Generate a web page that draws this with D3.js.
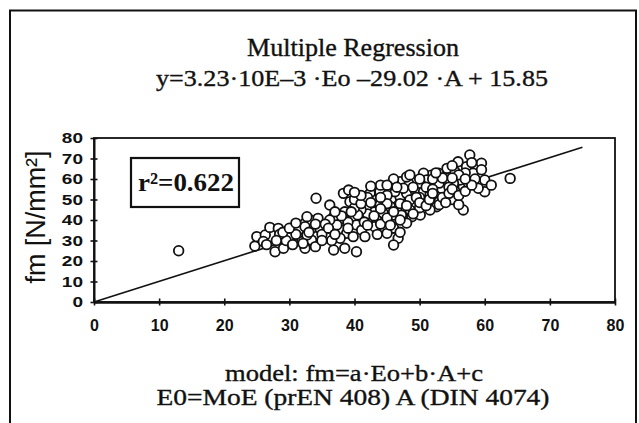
<!DOCTYPE html>
<html>
<head>
<meta charset="utf-8">
<script src="https://cdn.jsdelivr.net/npm/d3@7/dist/d3.min.js"></script>
<style>
  html, body { margin: 0; padding: 0; background: #fff; }
  svg { display: block; }
</style>
</head>
<body>
<svg id="chart" width="639" height="423"></svg>
<script>
// Measured vs. predicted bending strength (multiple regression model)
const xTicks = [0, 10, 20, 30, 40, 50, 60, 70, 80];
const yTicks = [0, 10, 20, 30, 40, 50, 60, 70, 80];

const titleLines = ["Multiple Regression", "y=3.23·10E–3 ·Eo –29.02 ·A + 15.85"];
const footLines = ["model: fm=a·Eo+b·A+c", "E0=MoE (prEN 408)  A (DIN 4074)"];
const yLabel = "fm [N/mm²]";
const r2Label = "r²=0.622";

// 1:1 reference line endpoints
const fitLine = [[0, 0], [75, 75.5]];

// predicted (x) and measured (y) strengths
const predicted = [
  13, 24.7, 25.0, 26.3, 27.0, 28.3, 27.8, 29.1, 30.1, 31.9, 31.4, 32.4, 33.2, 34.4, 34.7, 33.4, 32.4,
  34.1, 36.2, 36.8, 38.0, 36.8, 38.5, 40.3, 38.3, 39.1, 39.3, 38.5, 39.8, 40.3, 41.1, 41.6, 41.3, 42.4,
  42.1, 43.4, 42.9, 37.3, 36.2, 38.8, 39.8, 37.8, 32.7, 32.4, 32.7, 32.1, 29.5, 26.0, 28.5, 30.5, 35.5,
  35.0, 36.5, 34.0,
  44.4, 45.7, 47.0, 48.0, 49.3, 50.6, 51.6, 52.6, 54.2, 53.9, 55.7, 56.7, 52.6, 51.6, 50.8, 49.5, 48.5,
  48.5, 47.5, 46.5, 45.5, 43.9, 43.1, 44.4, 46.0, 47.2, 48.8, 50.1, 43.4, 44.9, 44.7, 43.1, 46.7, 46.0,
  57.7, 59.5, 55.9, 57.2, 55.4, 54.2, 58.2, 60.0, 60.0, 63.9, 56.7, 57.5, 56.2, 55.2, 54.2, 52.9, 53.4,
  52.4, 51.8, 50.6, 51.1, 50.1, 49.0, 48.3, 47.0, 46.0, 46.2, 44.9, 43.9,
  59.5, 58.5, 57.0, 53.0, 50.0, 45.0, 47.5, 42.0, 41.0, 40.5, 45.0, 49.0, 51.0, 54.5, 56.0, 52.0, 48.0,
  46.0, 44.0, 42.5, 53.0, 55.0, 56.0, 50.0, 44.0, 41.5, 39.0, 38.0, 37.0, 40.0, 46.0, 45.0, 48.0, 52.0,
  58.0, 61.0, 59.0, 55.0,
  26.5, 28.0, 29.0, 31.0, 30.0, 33.0, 35.0, 36.0, 37.0, 34.0, 31.0,
  39.5, 40.0, 41.0, 42.0, 43.0, 44.0, 45.0, 46.0, 47.0, 47.0, 48.0, 49.0, 49.5, 50.0, 51.0, 51.5, 52.0,
  53.0, 53.5, 54.0, 54.5, 55.0, 56.0, 57.0, 58.0, 57.0, 55.0, 53.5, 52.5, 50.0, 48.5, 46.5, 45.0, 44.0,
  42.5, 41.0, 40.0, 45.5, 47.0, 42.0, 39.0, 43.5
];
const measured = [
  25, 27.3, 31.9, 32.7, 36.4, 35.9, 24.5, 26.2, 31.9, 29.4, 35.1, 38.4, 40.0, 40.8, 35.9, 30.2, 26.2,
  50.6, 47.3, 41.6, 35.1, 25.4, 26.2, 24.5, 53.0, 54.6, 48.9, 44.0, 41.6, 37.6, 35.1, 31.9, 50.6, 53.0,
  46.5, 49.8, 40.0, 37.6, 40.0, 33.5, 31.9, 31.1, 41.6, 36.7, 32.7, 28.6, 30.0, 29.5, 33.0, 28.0, 38.0,
  33.0, 30.0, 27.0,
  49.8, 50.6, 51.4, 53.0, 54.6, 53.8, 52.2, 51.4, 51.4, 53.8, 53.8, 56.3, 46.5, 44.9, 48.9, 47.3, 49.8,
  44.9, 46.5, 45.7, 46.5, 47.3, 44.0, 43.3, 42.4, 42.4, 41.6, 42.4, 40.0, 39.2, 35.1, 36.7, 31.1, 27.8,
  71.7, 67.7, 68.4, 66.0, 63.6, 65.2, 62.8, 59.5, 53.8, 60.3, 44.9, 57.9, 59.5, 57.9, 60.3, 62.8, 55.4,
  57.9, 61.9, 62.8, 59.5, 57.9, 59.5, 57.9, 58.7, 57.9, 53.8, 55.4, 53.8,
  64.5, 60.0, 63.0, 58.0, 51.0, 52.0, 55.5, 43.0, 45.0, 42.5, 48.0, 56.0, 56.0, 56.0, 62.0, 60.0, 61.0,
  60.0, 57.0, 56.5, 49.0, 50.0, 47.5, 46.0, 45.5, 39.0, 39.0, 42.0, 44.0, 46.0, 36.0, 33.5, 38.5, 55.0,
  68.0, 57.0, 55.5, 66.5,
  28.0, 30.0, 34.0, 33.0, 36.0, 34.0, 30.0, 36.0, 33.0, 38.0, 38.5,
  44.0, 50.0, 48.0, 51.0, 42.0, 38.0, 41.0, 44.0, 48.0, 40.0, 47.0, 43.0, 51.0, 48.5, 47.0, 50.0, 53.0,
  47.5, 51.0, 48.5, 53.0, 55.0, 52.0, 54.0, 57.0, 60.0, 60.5, 60.5, 63.0, 60.0, 62.0, 56.0, 57.0, 51.0,
  48.5, 52.0, 53.5, 37.5, 34.0, 37.5, 36.0, 33.0
];

const svg = d3.select("#chart");
const plot = { left: 94, right: 615, top: 138, bottom: 302 };
const serif = "'Liberation Serif', 'Times New Roman', serif";
const sans = "'Liberation Sans', Arial, sans-serif";

const x = d3.scaleLinear().domain([0, 80]).range([plot.left, plot.right]);
const y = d3.scaleLinear().domain([0, 80]).range([plot.bottom, plot.top]);

// outer frame
svg.append("rect")
  .attr("x", 10).attr("y", 10.5)
  .attr("width", 626).attr("height", 430)
  .attr("fill", "none").attr("stroke", "#111").attr("stroke-width", 2);

// serif caption helper
function caption(t, cx, by, size, len) {
  svg.append("text")
    .attr("x", cx).attr("y", by)
    .attr("text-anchor", "middle")
    .attr("font-family", serif).attr("font-size", size)
    .attr("textLength", len)
    .attr("lengthAdjust", "spacingAndGlyphs")
    .attr("fill", "#111")
    .attr("stroke", "#111").attr("stroke-width", 0.35)
    .text(t);
}

// titles
caption(titleLines[0], 353, 56, 25, 212);
caption(titleLines[1], 352, 86, 24, 392);

// plot frame
svg.append("rect")
  .attr("x", plot.left).attr("y", plot.top)
  .attr("width", plot.right - plot.left).attr("height", plot.bottom - plot.top)
  .attr("fill", "none").attr("stroke", "#111").attr("stroke-width", 1.8);

// x axis
const gx = svg.append("g")
  .attr("transform", `translate(0,${plot.bottom})`)
  .call(d3.axisBottom(x).tickValues(xTicks).tickSize(3.5).tickSizeOuter(0).tickPadding(14));
gx.select(".domain").attr("stroke", "#111").attr("stroke-width", 2.6);
gx.selectAll(".tick line").attr("y1", -3.5).attr("stroke", "#111").attr("stroke-width", 1.6);
gx.selectAll(".tick text")
  .attr("font-family", sans).attr("font-weight", "bold").attr("font-size", 16)
  .attr("fill", "#111");

// y axis
const gy = svg.append("g")
  .attr("transform", `translate(${plot.left},0)`)
  .call(d3.axisLeft(y).tickValues(yTicks).tickSize(3.5).tickSizeOuter(0).tickPadding(0));
gy.select(".domain").attr("stroke", "#111").attr("stroke-width", 2);
gy.selectAll(".tick line").attr("x1", 3.5).attr("stroke", "#111").attr("stroke-width", 1.6);
gy.selectAll(".tick text")
  .attr("font-family", sans).attr("font-weight", "bold").attr("font-size", 19)
  .attr("fill", "#111")
  .attr("dy", null)
  .attr("x", null)
  .attr("y", 0)
  .attr("transform", "translate(-11,0) scale(1,0.74)")
  .attr("dominant-baseline", "central");

// y axis title
svg.append("text")
  .attr("transform", `translate(45,217) rotate(-90)`)
  .attr("text-anchor", "middle")
  .attr("font-family", sans).attr("font-size", 27)
  .attr("textLength", 133).attr("lengthAdjust", "spacingAndGlyphs")
  .attr("fill", "#111")
  .text(yLabel);

// 1:1 line
svg.append("path")
  .datum(fitLine)
  .attr("d", d3.line().x(d => x(d[0])).y(d => y(d[1])))
  .attr("fill", "none").attr("stroke", "#111").attr("stroke-width", 1.6);

// data points
const pts = predicted.map((p, i) => [p, measured[i]]);
svg.append("g").selectAll("circle")
  .data(pts)
  .join("circle")
  .attr("cx", d => x(d[0])).attr("cy", d => y(d[1]))
  .attr("r", 4.8)
  .attr("fill", "#fff").attr("stroke", "#111").attr("stroke-width", 1.8);

// r² box
svg.append("rect")
  .attr("x", 131).attr("y", 158).attr("width", 108).attr("height", 49)
  .attr("fill", "#fff").attr("stroke", "#111").attr("stroke-width", 2.2);
svg.append("text")
  .attr("x", 186).attr("y", 191)
  .attr("text-anchor", "middle")
  .attr("font-family", serif).attr("font-weight", "bold").attr("font-size", 26)
  .attr("textLength", 96).attr("lengthAdjust", "spacingAndGlyphs")
  .attr("fill", "#111")
  .text(r2Label);

// model description
caption(footLines[0], 354, 381, 24, 258);
caption(footLines[1], 353, 405, 23, 393);
</script>
</body>
</html>
